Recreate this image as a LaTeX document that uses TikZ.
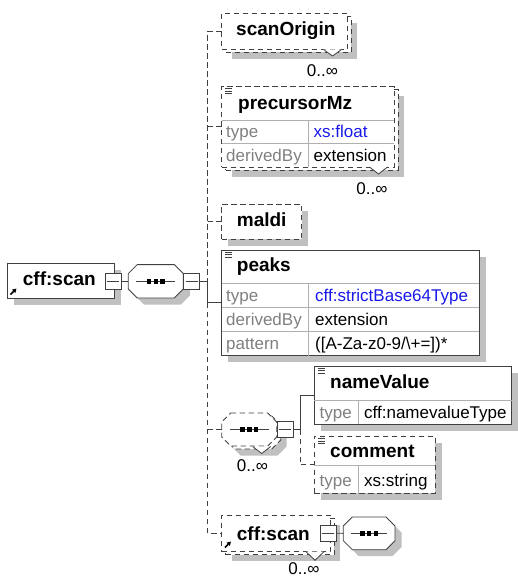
\documentclass[tikz,border=0pt]{standalone}
\usepackage{fontspec}
\setmainfont{Liberation Sans}
\usetikzlibrary{shadows,arrows.meta}

\definecolor{shadowgray}{RGB}{192,192,192}
\definecolor{edgegray}{RGB}{64,64,64}
\definecolor{sepgray}{RGB}{176,176,176}
\definecolor{keygray}{RGB}{128,128,128}
\definecolor{typeblue}{RGB}{25,25,235}

\tikzset{
  frame/.style={inner sep=0pt, outer sep=0pt, anchor=north west, fill=white,
    draw=edgegray, line width=0.8pt},
  optional/.style={dash pattern=on 5.5pt off 3.5pt},
  flatshadow/.style={general shadow={shadow xshift=6.5pt, shadow yshift=-6.5pt, fill=shadowgray}},
  stackshadow/.style={
    general shadow={shadow xshift=10pt, shadow yshift=-9.5pt, fill=shadowgray},
    general shadow={shadow xshift=4pt, shadow yshift=-3pt, fill=white, draw=edgegray,
      line width=0.8pt, dash pattern=on 5.5pt off 3.5pt}},
  elem/.style={frame, flatshadow},
  optelem/.style={frame, optional, flatshadow},
  multielem/.style={frame, optional, stackshadow},
  anchorbox/.style={inner sep=0pt, outer sep=0pt, anchor=north west},
  expander/.style={draw=edgegray, fill=white, line width=0.8pt, inner sep=0pt,
    outer sep=0pt, minimum size=16pt,
    path picture={\draw[edgegray, line width=0.8pt]
      ([xshift=2pt]path picture bounding box.west) --
      ([xshift=-2pt]path picture bounding box.east);}},
  conn/.style={draw=edgegray, line width=0.8pt},
  optconn/.style={conn, optional},
  sep/.style={draw=sepgray, line width=0.8pt},
  ename/.style={inner sep=0pt, anchor=base west, font=\fontsize{19}{22}\selectfont\bfseries},
  key/.style={inner sep=0pt, anchor=base west, font=\fontsize{17}{20}\selectfont, text=keygray},
  val/.style={inner sep=0pt, anchor=base west, font=\fontsize{17}{20}\selectfont, text=black},
  typeval/.style={val, text=typeblue},
  occurs/.style={inner sep=0pt, anchor=base, font=\fontsize{17}{20}\selectfont},
}

% sequence compositor: corners (#1,#2)-(#3,#4), #5 = outline options
\newcommand{\seqoutline}[5]{%
  \draw[#5] (#1+9,#2) -- (#3-9,#2) -- (#3,#2+9) -- (#3,#4-9)
    -- (#3-9,#4) -- (#1+9,#4) -- (#1,#4-9) -- (#1,#2+9) -- cycle;
  \pgfmathsetmacro{\seqcx}{(#1+#3)/2}%
  \pgfmathsetmacro{\seqcy}{(#2+#4)/2}%
  \draw[conn] (#1+8,\seqcy) -- (#3-8,\seqcy);
  \foreach \dx in {-9.2,-2.3,4.6}
    \fill[black] (\seqcx+\dx,\seqcy-2.3) rectangle ++(4.6,4.6);
}
% annotation mark in the top left corner of a box
\newcommand{\docicon}[2]{%
  \draw[edgegray, line width=0.6pt] (#1,#2) -- ++(7,0) (#1,#2+2.5) -- ++(7,0)
    (#1,#2+5) -- ++(7,0);}
% reference mark in the bottom left corner of a box
\newcommand{\refarrow}[2]{%
  \draw[black, line width=1.5pt, -{Triangle[length=4pt,width=4.5pt]}] (#1,#2) -- ++(6,-6);}
% repetition notch under a box
\newcommand{\repeatnotch}[3]{%
  \draw[edgegray, line width=0.8pt, fill=white] (#1-9,#2) -- (#1,#2+#3) -- (#1+9,#2);}

\begin{document}
\begin{tikzpicture}[x=1pt, y=-1pt]
\useasboundingbox (0,0) rectangle (518,578);
\fill[white] (0,0) rectangle (518,578);

% ---- cff:scan (root) and its sequence
\node[elem, minimum width=107pt, minimum height=35pt] (root) at (7.3,263.8) {};
\node[ename] (rootname) at (22.7,285.7) {cff:scan};
\refarrow{10.5}{294.5}
\node[expander] (rootexp) at (112.9,281.3) {};

\node[anchorbox, minimum width=55pt, minimum height=33.4pt] (seqA) at (128.3,264.6) {};
\seqoutline{128.3}{264.6}{183.3}{298}{conn, fill=white, flatshadow}
\node[expander] (seqAexp) at (191.5,281.3) {};
\coordinate (bus) at (207.7,281.3);

% ---- scanOrigin
\node[multielem, minimum width=125.6pt, minimum height=36.2pt] (scanOrigin) at (221.7,13.3) {};
\node[ename] (scanOriginname) at (236,36) {scanOrigin};
\repeatnotch{332.5}{49.5}{6.5}
\node[occurs] (scanOriginocc) at (322.5,77) {0..∞};

% ---- precursorMz
\node[multielem, minimum width=172.3pt, minimum height=80.3pt] (precursorMz) at (221.7,86.7) {};
\draw[sep] (221.7,120) -- (394,120) (221.7,143) -- (394,143) (308,120) -- (308,167);
\docicon{225}{88.5}
\node[ename] (precursorMzname) at (238,109.3) {precursorMz};
\node[key] (pmk1) at (226,137.5) {type};
\node[typeval] (pmv1) at (313.5,137.5) {xs:float};
\node[key] (pmk2) at (226,161.2) {derivedBy};
\node[val] (pmv2) at (313.5,161.2) {extension};
\repeatnotch{378.5}{167}{7}
\node[occurs] (precursorMzocc) at (372,194) {0..∞};

% ---- maldi
\node[optelem, minimum width=80pt, minimum height=35pt] (maldi) at (221.7,204) {};
\node[ename] (maldiname) at (236.7,226.7) {maldi};

% ---- peaks
\node[elem, minimum width=257.6pt, minimum height=105.7pt] (peaks) at (221.7,250) {};
\draw[sep] (221.7,283.3) -- (479.3,283.3) (221.7,307.3) -- (479.3,307.3)
  (221.7,331.7) -- (479.3,331.7) (308.3,283.3) -- (308.3,355.7);
\docicon{225}{252}
\node[ename] (peaksname) at (236.7,271.7) {peaks};
\node[key] (pk1) at (226,301.5) {type};
\node[typeval] (pv1) at (315,301.5) {cff:strictBase64Type};
\node[key] (pk2) at (226,325.7) {derivedBy};
\node[val] (pv2) at (315,325.7) {extension};
\node[key] (pk3) at (226,349.9) {pattern};
\node[val] (pv3) at (315,349.9) {([A-Za-z0-9/\textbackslash+=])*};

% ---- repeated inner sequence
\node[anchorbox, minimum width=55pt, minimum height=33pt] (seqB) at (221.7,413) {};
\seqoutline{221.7}{413}{276.7}{446}{conn, optional, fill=white, stackshadow}
\repeatnotch{261.7}{446.5}{7}
\node[occurs] (seqBocc) at (252.5,471.7) {0..∞};
\node[expander] (seqBexp) at (285,429.5) {};
\coordinate (subbus) at (300,429.5);

% ---- nameValue
\node[elem, minimum width=197.7pt, minimum height=58pt] (nameValue) at (314,366) {};
\draw[sep] (314,400) -- (511.7,400) (358.3,400) -- (358.3,424);
\docicon{317.5}{368}
\node[ename] (nameValuename) at (330,388.5) {nameValue};
\node[key] (nk1) at (319.5,418.5) {type};
\node[val] (nv1) at (364,418.5) {cff:namevalueType};

% ---- comment
\node[optelem, minimum width=121pt, minimum height=57.3pt] (comment) at (314,436) {};
\draw[sep] (314,465) -- (435,465) (358.3,465) -- (358.3,493.3);
\docicon{317.5}{438.5}
\node[ename] (commentname) at (330,457) {comment};
\node[key] (ck1) at (319.5,486.5) {type};
\node[val] (cv1) at (364,486.5) {xs:string};

% ---- recursive cff:scan reference
\node[multielem, minimum width=108.3pt, minimum height=36.7pt] (refScan) at (221.7,515) {};
\node[ename] (refScanname) at (236.7,540) {cff:scan};
\refarrow{225}{547.5}
\repeatnotch{315}{551.7}{8.5}
\node[occurs] (refScanocc) at (304,574) {0..∞};
\node[expander] (refScanexp) at (328,533.3) {};
\node[anchorbox, minimum width=51.7pt, minimum height=32.7pt] (seqC) at (343.3,517) {};
\seqoutline{343.3}{517}{395}{549.7}{conn, fill=white, flatshadow}

% ---- connectors
\draw[conn] (rootexp.east) -- (seqA.west);
\draw[conn] (seqAexp.east) -- (bus);
\draw[optconn] (scanOrigin.west) -| (bus);
\draw[optconn] (precursorMz.west) -- (precursorMz.west -| bus);
\draw[optconn] (maldi.west) -- (maldi.west -| bus);
\draw[conn] (bus) |- (peaks.west);
\draw[optconn] (peaks.west -| bus) |- (refScan.west);
\draw[optconn] (seqB.west) -- (seqB.west -| bus);
\draw[conn] (seqBexp.east) -- (subbus);
\draw[conn] (subbus) |- (nameValue.west);
\draw[optconn] (subbus) |- (comment.west);
\draw[conn] (refScanexp.east) -- (seqC.west);
\end{tikzpicture}
\end{document}
